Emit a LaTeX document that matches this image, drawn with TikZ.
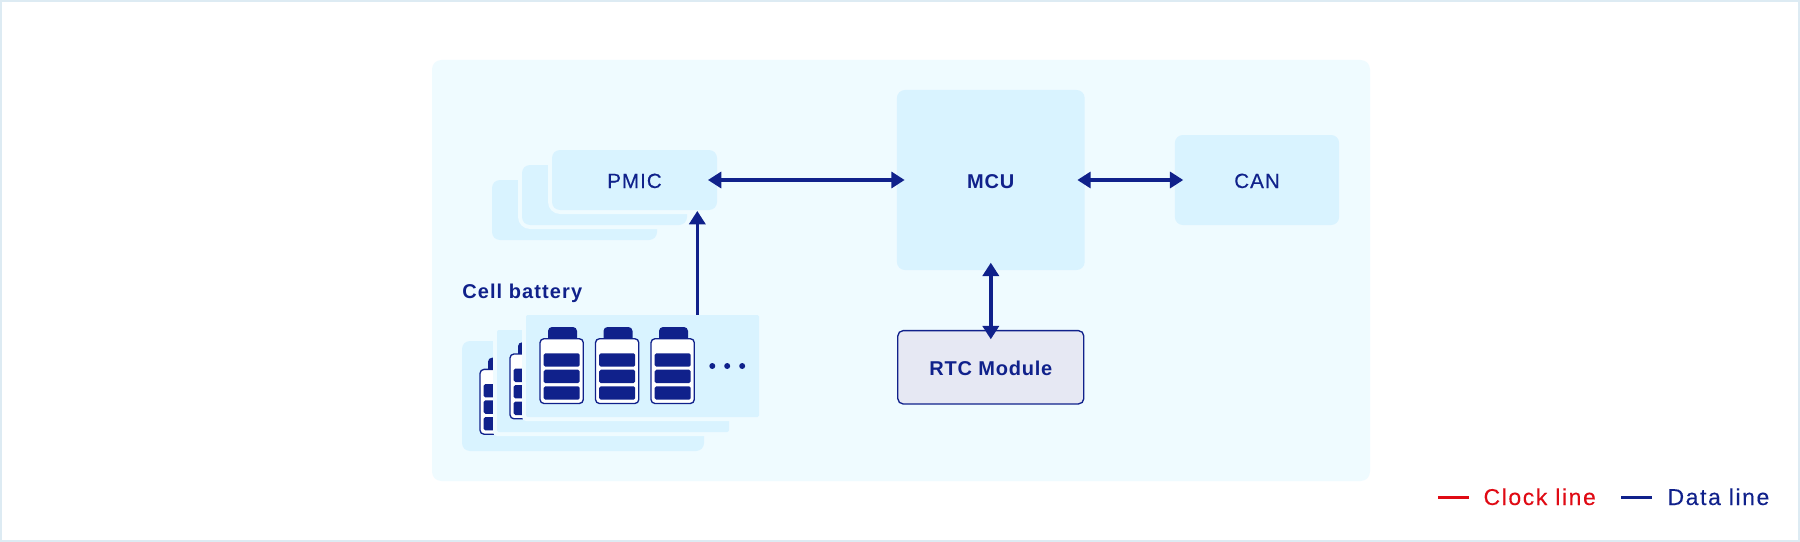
\documentclass[tikz,border=0pt]{standalone}
\usepackage{fontspec}
\setmainfont{Liberation Sans}
\newfontfamily\regf[LetterSpace=5,FakeBold=0.35]{Liberation Sans}
\newfontfamily\legf[LetterSpace=7,FakeBold=0.2]{Liberation Sans}
\newfontfamily\bldf[LetterSpace=4]{Liberation Sans Bold}
\newfontfamily\labf[LetterSpace=5.5]{Liberation Sans Bold}
\usetikzlibrary{arrows.meta}
\definecolor{panelc}{HTML}{EFFBFF}
\definecolor{boxc}{HTML}{D9F3FF}
\definecolor{navyc}{HTML}{10218B}
\definecolor{redc}{HTML}{E00A14}
\definecolor{framec}{HTML}{DDEBF3}
\definecolor{rtcc}{HTML}{E6E8F3}
\tikzset{
  x=0.75pt,y=-0.75pt,
  boxn/.style={fill=boxc,inner sep=0pt,rounded corners=6pt,text=navyc,text height=12pt,text depth=0pt,font=\fontsize{15.4pt}{18pt}\regf},
  boldn/.style={font=\fontsize{15pt}{18pt}\bldf},
  dataline/.style={draw=navyc,line width=2.6pt},
  dbl/.style={dataline,{Triangle[length=10pt,width=12pt]}-{Triangle[length=10pt,width=12pt]}},
  sgl/.style={dataline,-{Triangle[length=10pt,width=12pt]}},
  legendt/.style={inner sep=0pt,anchor=base west,font=\fontsize{17.2pt}{18pt}\legf},
}
\newcommand{\cellicon}[2]{%
  \begin{scope}[shift={(#1,#2)}]
    \fill[navyc,rounded corners=3pt] (8.7,-11) rectangle (37.7,4);
    \filldraw[fill=white,draw=navyc,line width=1pt,rounded corners=3pt] (0.7,0.7) rectangle (44,65.5);
    \foreach \yy in {15.3,31.7,48.3}
      \fill[navyc,rounded corners=1.2pt] (4.4,\yy) rectangle (40.4,\yy+13.4);
  \end{scope}}
\newcommand{\cellrow}[2]{%
  \cellicon{#1}{#2}\cellicon{#1+55.5}{#2}\cellicon{#1+111}{#2}}
\begin{document}
\begin{tikzpicture}
\useasboundingbox (0,0) rectangle (1800,542);
\fill[white] (0,0) rectangle (1800,542);
\draw[framec,line width=1.5pt] (1,1) rectangle (1799,541);
\fill[panelc,rounded corners=7pt] (432,60) rectangle (1370,481);
% PMIC stack
\fill[boxc,rounded corners=6pt] (492,180) rectangle (657,240);
\fill[panelc,rounded corners=9pt] (518,161) rectangle (691,229);
\fill[boxc,rounded corners=6pt] (522,165) rectangle (687,225);
\fill[panelc,rounded corners=9pt] (548,146) rectangle (721,214);
\node[boxn,minimum width=123.75pt,minimum height=45pt] (pmic) at (634.5,180) {PMIC};
% Cell stack
\node[inner sep=0pt,anchor=base west,text=navyc,font=\fontsize{15pt}{18pt}\labf] (celllabel) at (462,298) {Cell battery};
\fill[boxc,rounded corners=6pt] (462,341) rectangle (704,451);
\cellrow{479.3}{368.7}
\fill[panelc,rounded corners=3pt] (493,326) rectangle (733,436);
\fill[boxc,rounded corners=1.5pt] (497,330) rectangle (729,432);
\cellrow{509.3}{353.3}
\fill[panelc,rounded corners=3pt] (522,311) rectangle (763,421);
\node[fill=boxc,inner sep=0pt,rounded corners=1pt,minimum width=174.75pt,minimum height=76.5pt] (cell) at (642.5,366) {};
\cellrow{539.3}{338}
\foreach \xx in {712.3,727.2,742.2}
  \fill[navyc] (\xx,366) circle[radius=2.25pt];
% main boxes
\node[boxn,boldn,minimum width=140.8pt,minimum height=135pt] (mcu) at (990.8,180) {MCU};
\node[boxn,minimum width=123.2pt,minimum height=67.5pt] (can) at (1257,180) {CAN};
\node[boxn,boldn,fill=rtcc,draw=navyc,line width=1pt,rounded corners=4pt,minimum width=139.5pt,minimum height=55pt] (rtc) at (990.8,367.3) {RTC Module};
% connectors
\coordinate (pmicin) at (697.3,210);
\draw[dbl,shorten <=-7pt,shorten >=-6pt] (pmic.east) -- (mcu.west);
\draw[dbl,shorten <=-5.7pt,shorten >=-6.5pt] (mcu.east) -- (can.west);
\draw[dbl,shorten <=-5.7pt,shorten >=-7pt] (mcu.south) -- (rtc.north);
\draw[sgl,shorten >=0.7pt] (cell.north -| pmicin) -- (pmicin);
% legend
\coordinate (la) at (1438.3,497.7);
\coordinate (lb) at (1468.7,497.7);
\coordinate (lc) at (1621.3,497.7);
\coordinate (ld) at (1651.7,497.7);
\draw[redc,line width=2pt] (la) -- (lb);
\draw[navyc,line width=2pt] (lc) -- (ld);
\node[legendt,text=redc] (clock) at (1483.3,505) {Clock line};
\node[legendt,text=navyc] (data) at (1667.3,505) {Data line};
\end{tikzpicture}
\end{document}
